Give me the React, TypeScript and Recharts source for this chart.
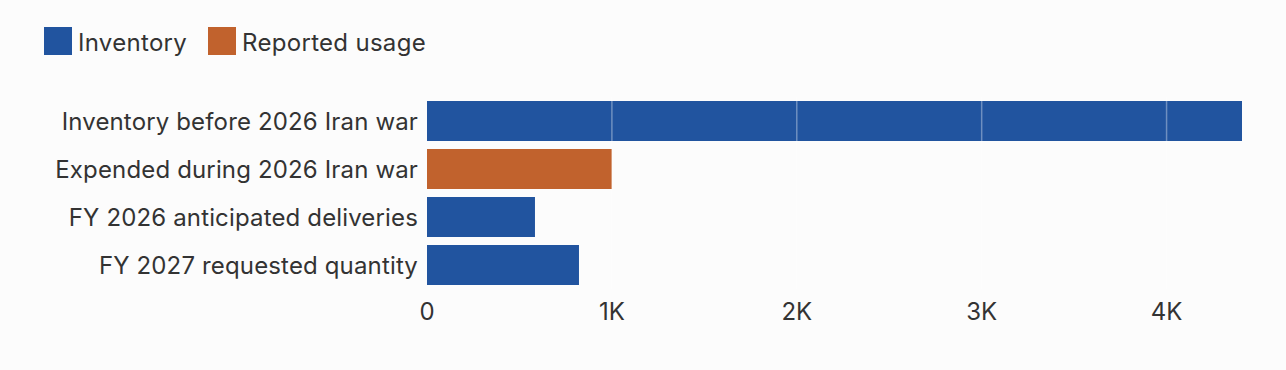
import { useEffect } from 'react'
import { BarChart, Bar, XAxis, YAxis, Cell, ReferenceLine } from 'recharts'

const categories = [
  'Inventory before 2026 Iran war',
  'Expended during 2026 Iran war',
  'FY 2026 anticipated deliveries',
  'FY 2027 requested quantity',
]
const quantities = [4408, 1000, 584, 822]
const kinds = ['Inventory', 'Reported usage', 'Inventory', 'Inventory']
const xTicks = [0, 1000, 2000, 3000, 4000]

const COLORS: Record<string, string> = { Inventory: '#21549f', 'Reported usage': '#c1622d' }
const FONT = 'Inter, "Noto Sans", sans-serif'

const data = categories.map((name, i) => ({ name, value: quantities[i], kind: kinds[i] }))

const fmt = (v: number) => (v === 0 ? '0' : `${v / 1000}K`)

export default function App() {
  useEffect(() => {
    document.body.style.margin = '0'
    document.body.style.background = '#fcfcfc'
  }, [])

  return (
    <div style={{ position: 'relative', width: 1286, height: 370, background: '#fcfcfc' }}>
      {/* legend drawn as plain html so it doesn't push the plot down */}
      <div style={{ position: 'absolute', top: 27, left: 44, display: 'flex', alignItems: 'center', gap: 21, fontFamily: FONT, fontSize: 24, color: '#333', letterSpacing: 0.3 }}>
        {Object.keys(COLORS).map(k => (
          <div key={k} style={{ display: 'flex', alignItems: 'center', gap: 6 }}>
            <span style={{ width: 28, height: 28, background: COLORS[k], display: 'inline-block' }} />
            <span style={{ lineHeight: '28px', position: 'relative', top: 2 }}>{k}</span>
          </div>
        ))}
      </div>
      <BarChart width={1286} height={370} data={data} layout="vertical"
        margin={{ top: 97, right: 44, bottom: 51, left: 0 }} barCategoryGap={4}>
        <XAxis type="number" domain={[0, 'dataMax']} ticks={xTicks} tickFormatter={fmt}
          axisLine={false} tickLine={false} tickSize={0} height={30}
          tick={{ fill: '#333', fontSize: 24, fontFamily: FONT }} tickMargin={14} />
        <YAxis type="category" dataKey="name" width={427} axisLine={false} tickLine={false}
          tickSize={0} tick={{ fill: '#333', fontSize: 24, fontFamily: FONT, letterSpacing: 0.15 }} tickMargin={9} />
        <Bar dataKey="value" isAnimationActive={false}>
          {data.map((d, i) => <Cell key={i} fill={COLORS[d.kind]} />)}
        </Bar>
        {xTicks.slice(1).map(t => (
          <ReferenceLine key={t} x={t} stroke="#ffffff" strokeOpacity={0.35} strokeWidth={1.5} />
        ))}
      </BarChart>
    </div>
  )
}
